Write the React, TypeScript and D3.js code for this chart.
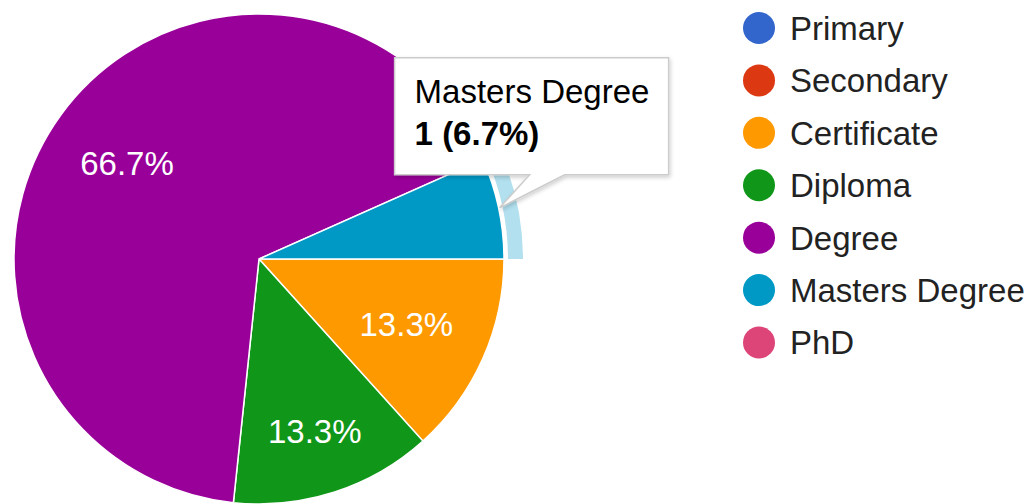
import React from "react";
import * as d3 from "d3";

// education levels and head counts
const categories = ["Primary", "Secondary", "Certificate", "Diploma", "Degree", "Masters Degree", "PhD"];
const counts = [0, 0, 2, 2, 10, 1, 0];
const colors = ["#3366cc", "#dc3912", "#ff9900", "#109618", "#990099", "#0099c6", "#dd4477"];
const hovered = "Masters Degree";

const W = 1032;
const H = 504;
const FONT = "'Liberation Sans', Arial, sans-serif";
const FS = 33;

export default function App() {
  const cx = 259, cy = 259, r = 245;
  const total = d3.sum(counts);
  const rows = categories.map((c, i) => ({ name: c, value: counts[i], color: colors[i] }));

  // pie starts at 3 o'clock, goes clockwise (pieStartAngle 90)
  const pie = d3.pie<any>().sort(null).value(d => d.value)
    .startAngle(Math.PI / 2).endAngle(Math.PI / 2 + Math.PI * 2);
  const arcs = pie(rows);
  const arc = d3.arc<any>().innerRadius(0).outerRadius(r);
  const ring = d3.arc<any>().innerRadius(r + 4).outerRadius(r + 19);
  const pct = d3.format(".1%");

  // label box pushed out until its far corner touches ~0.86 r
  const labelPos = (a: any, txt: string) => {
    const m = (a.startAngle + a.endAngle) / 2;
    const s = Math.sin(m), c = Math.cos(m);
    const hw = txt.length * 0.567 * FS / 2, hh = FS / 2;
    const d = r * 0.86 - (Math.abs(s) * hw + Math.abs(c) * hh);
    return [d * s, -d * c];
  };

  const legendY = d3.scalePoint<string>().domain(categories).range([28, 342.5]);

  const hov = arcs.find(a => a.data.name === hovered)!;
  const mid = (hov.startAngle + hov.endAngle) / 2;
  const tip = [cx + (r + 1) * Math.sin(mid), cy - (r + 1) * Math.cos(mid)];
  const bx = tip[0] - 105, by = tip[1] - 150, bw = 274, bh = 117;
  const tipPath = `M${bx},${by}H${bx + bw}V${by + bh}H${tip[0] + 65}L${tip[0]},${tip[1]}L${tip[0] + 30},${by + bh}H${bx}Z`;

  return (
    <div style={{ position: "fixed", left: 0, top: 0 }}>
      <svg width={W} height={H} style={{ display: "block", background: "#fff" }} fontFamily={FONT}>
        <defs>
          <filter id="shadow" x="-10%" y="-10%" width="130%" height="140%">
            <feGaussianBlur in="SourceAlpha" stdDeviation="2" />
            <feOffset dx="1" dy="2" result="b" />
            <feComponentTransfer><feFuncA type="linear" slope="0.2" /></feComponentTransfer>
            <feMerge><feMergeNode /><feMergeNode in="SourceGraphic" /></feMerge>
          </filter>
        </defs>
        <g transform={`translate(${cx},${cy})`}>
          {arcs.filter(a => a.data.value > 0).map(a => (
            <path key={a.data.name} d={arc(a)!} fill={a.data.color} stroke="#fff" strokeWidth={1.5} />
          ))}
          <path d={ring(hov)!} fill={hov.data.color} fillOpacity={0.3} />
          {arcs.filter(a => a.data.value / total > 0.07).map(a => {
            const txt = pct(a.data.value / total);
            const [lx, ly] = labelPos(a, txt);
            return (
              <text key={a.data.name} x={lx} y={ly} dy="0.36em" textAnchor="middle" fill="#fff" fontSize={FS}>
                {txt}
              </text>
            );
          })}
        </g>
        <g>
          {rows.map(d => (
            <g key={d.name} transform={`translate(0,${legendY(d.name)})`}>
              <circle cx={759} cy={0} r={16} fill={d.color} />
              <text x={790} y={0} dy="0.36em" fontSize={FS} fill="#222">{d.name}</text>
            </g>
          ))}
        </g>
        <g>
          <path d={tipPath} fill="#fff" stroke="#cccccc" strokeWidth={1.5} filter="url(#shadow)" />
          <text x={bx + 20} y={by + 45} fontSize={FS} fill="#000">{hov.data.name}</text>
          <text x={bx + 20} y={by + 87} fontSize={FS} fill="#000" fontWeight="bold">
            {`${hov.data.value} (${pct(hov.data.value / total)})`}
          </text>
        </g>
      </svg>
    </div>
  );
}
